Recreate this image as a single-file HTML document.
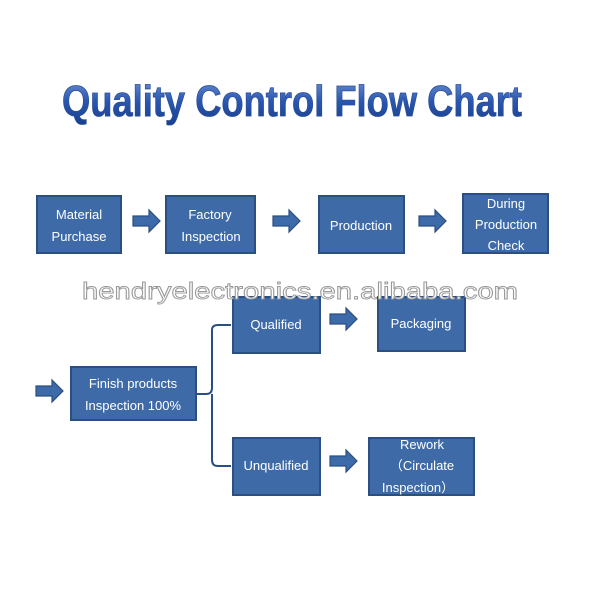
<!DOCTYPE html>
<html><head><style>body{margin:0;background:#fff}</style></head><body>
<svg width="600" height="600" viewBox="0 0 600 600" xmlns="http://www.w3.org/2000/svg" font-family="Liberation Sans, sans-serif">
<defs>
<linearGradient id="tg" x1="0" y1="0" x2="0" y2="1">
<stop offset="0" stop-color="#6f93d6"/><stop offset="0.5" stop-color="#2a56b0"/><stop offset="1" stop-color="#183e8e"/>
</linearGradient>
<g id="ar"><path d="M0,-5 H16 V-11 L27,0 L16,11 V5 H0 Z" fill="#3d6aa8" stroke="#2b4f80" stroke-width="1.2"/></g>
</defs>
<text x="62" y="116" font-size="44" font-weight="bold" fill="url(#tg)" stroke="#2a4f95" stroke-width="0.8" textLength="460" lengthAdjust="spacingAndGlyphs">Quality Control Flow Chart</text>
<g fill="#3e6ba8" stroke="#2b4f80" stroke-width="2">
<rect x="37" y="196" width="84" height="57"/>
<rect x="166" y="196" width="89" height="57"/>
<rect x="319" y="196" width="85" height="57"/>
<rect x="463" y="194" width="85" height="59"/>
<rect x="233" y="297" width="87" height="56"/>
<rect x="378" y="297" width="87" height="54"/>
<rect x="71" y="367" width="125" height="53"/>
<rect x="233" y="438" width="87" height="57"/>
<rect x="369" y="438" width="105" height="57"/>
</g>
<use href="#ar" x="133" y="221"/>
<use href="#ar" x="273" y="221"/>
<use href="#ar" x="419" y="221"/>
<use href="#ar" x="36" y="391"/>
<use href="#ar" x="330" y="319"/>
<use href="#ar" x="330" y="461"/>
<path d="M196,394 H206 Q212,394 212,388 V330 Q212,325 218,325 H231 M212,394 V460 Q212,466 218,466 H231" fill="none" stroke="#2b4f80" stroke-width="2"/>
<g fill="#fff" font-size="13" text-anchor="middle">
<text x="79" y="219">Material</text><text x="79" y="241">Purchase</text>
<text x="210" y="219">Factory</text><text x="211" y="241">Inspection</text>
<text x="361" y="230">Production</text>
<text x="506" y="208">During</text><text x="506" y="229">Production</text><text x="506" y="250">Check</text>
<text x="276" y="329">Qualified</text>
<text x="421" y="328">Packaging</text>
<text x="133" y="388">Finish products</text><text x="133" y="410">Inspection 100%</text>
<text x="276" y="470">Unqualified</text>
<text x="422" y="449">Rework</text><text x="422" y="470">（Circulate</text><text x="418" y="492">Inspection）</text>
</g>
<text x="300" y="299" font-size="23" text-anchor="middle" fill="#fff" stroke="#9a9a9a" stroke-width="0.9" textLength="436" lengthAdjust="spacingAndGlyphs">hendryelectronics.en.alibaba.com</text>
</svg>
</body></html>
